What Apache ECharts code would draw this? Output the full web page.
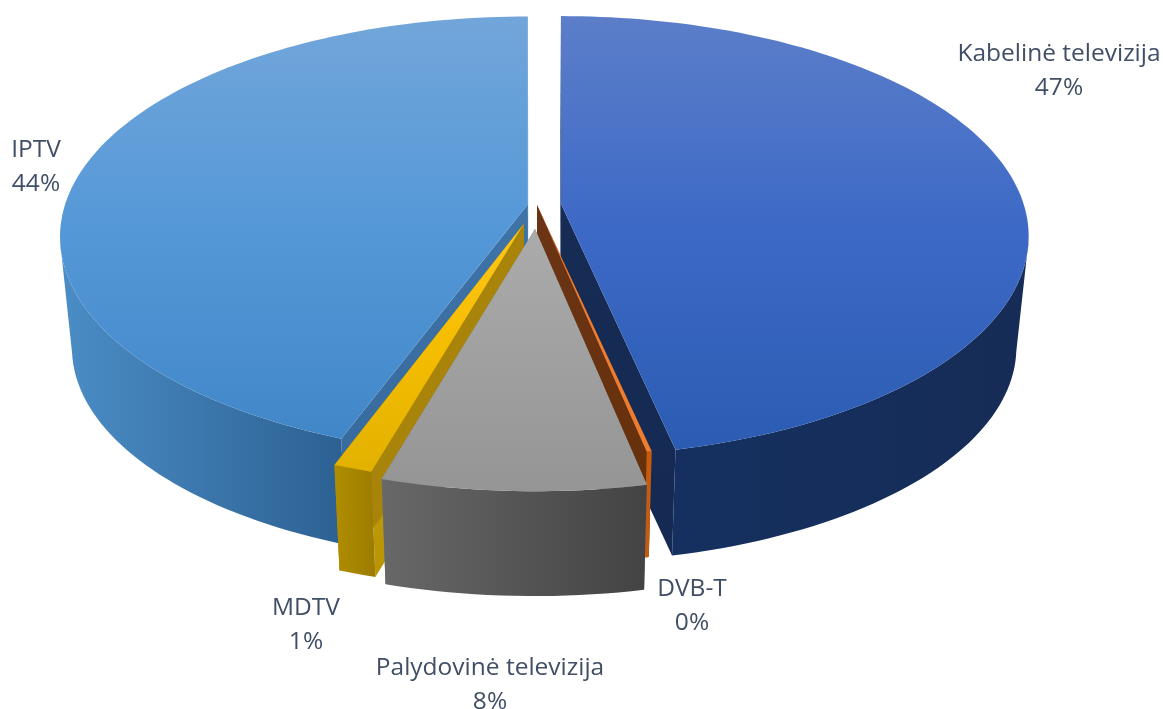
<!DOCTYPE html>
<html>
<head>
<meta charset="utf-8">
<title>TV platforms</title>
<script src="https://cdn.jsdelivr.net/npm/echarts@6/dist/echarts.min.js"></script>
<style>
    html, body { margin: 0; padding: 0; background: #fff; }
    #chart { width: 1163px; height: 709px; }
</style>
</head>
<body>
<div id="chart"></div>
<script>
// clockwise from 12 o'clock
var categories = ['Kabelinė televizija', 'DVB-T', 'Palydovinė televizija', 'MDTV', 'IPTV'];
var shares = [46.6, 0.15, 7.75, 1.15, 44.35];

// how far every slice is pulled out, share of radius
var explode = [0.052, 0, 0.11, 0.09, 0.02];
// back slices first, the grey one sits in front of everything
var drawOrder = [4, 0, 1, 3, 2];
var labelPos = [[1059, 71], [692, 606], [490, 685], [306, 625], [36, 167]];

var pie = { cx: 537, cy: 205, rx: 463, ry: 215.7, persp: 0.1474, shrink: 0.975, depth: 112 };

var colors = [
    { top: ['#5c7ec9', '#3c69c6', '#2b5cb2'], cutA: ['#14284f', '#14284f'], cutB: ['#172c54', '#152a52'], side: ['#153060', '#162c56'] },
    { top: ['#ed7d31', '#ed7d31', '#ed7d31'], cutA: ['#6b3416', '#6b3416'], cutB: ['#6b3416', '#663008'], side: ['#c55a11', '#c55a11'] },
    { top: ['#ababab', '#a0a0a0', '#959595'], cutA: ['#777777', '#777777'], cutB: ['#777777', '#777777'], side: ['#686868', '#434343'] },
    { top: ['#ffc61a', '#f5bd00', '#e2b100'], cutA: ['#c9a22e', '#ba9500'], cutB: ['#a8850a', '#a8850a'], side: ['#b08d00', '#9c7c00'] },
    { top: ['#72a6da', '#5598d8', '#4187c7'], cutA: ['#3f74a8', '#35689b'], cutB: ['#3a6fa5', '#3a6fa5'], side: ['#4b8dc6', '#2c6092'] }
];

function getAngles() {
    var total = shares.reduce(function (a, b) { return a + b; }, 0);
    var sum = 0;
    return shares.map(function (share) {
        var start = sum / total * Math.PI * 2;
        sum += share;
        return [start, sum / total * Math.PI * 2];
    });
}

// disc coordinates to screen, lower = the face at the bottom of the cylinder
function project(u, v, ox, oy, lower) {
    var w = 1 - pie.persp * (v + oy);
    var x = pie.rx * u / w + pie.rx * ox;
    var y = pie.ry * (v + oy) / w;
    if (lower) {
        return [pie.cx + x * pie.shrink, pie.cy + y * pie.shrink + pie.depth];
    }
    return [pie.cx + x, pie.cy + y];
}

function gradient(list, horizontal) {
    var stops = list.map(function (color, i) {
        return { offset: i / (list.length - 1), color: color };
    });
    return new echarts.graphic.LinearGradient(0, 0, horizontal ? 1 : 0, horizontal ? 0 : 1, stops);
}

function face(points, fill) {
    return { type: 'polygon', shape: { points: points }, style: { fill: fill } };
}

function renderSlice(params, api) {
    var idx = api.value(0);
    var range = getAngles()[idx];
    var mid = (range[0] + range[1]) / 2;
    var ox = explode[idx] * Math.sin(mid);
    var oy = -explode[idx] * Math.cos(mid);
    var steps = Math.max(2, Math.ceil((range[1] - range[0]) * 40));

    var upper = [];
    var wallTop = [];
    var wallLow = [];
    for (var i = 0; i <= steps; i++) {
        var t = range[0] + (range[1] - range[0]) * i / steps;
        var u = Math.sin(t);
        var v = -Math.cos(t);
        upper.push(project(u, v, ox, oy, false));
        // the back part of the wall is hidden, and would make the polygon cross itself
        if (v >= pie.persp) {
            wallTop.push(project(u, v, ox, oy, false));
            wallLow.push(project(u, v, ox, oy, true));
        }
    }
    var apexTop = project(0, 0, ox, oy, false);
    var apexLow = project(0, 0, ox, oy, true);
    var first = project(Math.sin(range[0]), -Math.cos(range[0]), ox, oy, true);
    var last = project(Math.sin(range[1]), -Math.cos(range[1]), ox, oy, true);
    var c = colors[idx];

    var children = [
        face([apexTop, upper[0], first, apexLow], gradient(c.cutA, false)),
        face([apexTop, upper[steps], last, apexLow], gradient(c.cutB, false)),
        face(wallTop.concat(wallLow.reverse()), gradient(c.side, true)),
        face([apexTop].concat(upper), gradient(c.top, false)),
        {
            type: 'text',
            style: {
                text: categories[idx] + '\n' + Math.round(shares[idx]) + '%',
                x: labelPos[idx][0],
                y: labelPos[idx][1],
                align: 'center',
                verticalAlign: 'middle',
                fill: '#404f66',
                fontFamily: 'Open Sans',
                fontSize: 24.5,
                lineHeight: 34
            }
        }
    ];
    return { type: 'group', children: children };
}

var chart = echarts.init(document.getElementById('chart'));
chart.setOption({
    animation: false,
    backgroundColor: '#ffffff',
    series: [{
        type: 'custom',
        coordinateSystem: 'none',
        silent: true,
        renderItem: renderSlice,
        encode: { value: 0 },
        data: drawOrder.map(function (idx) {
            return { name: categories[idx], value: [idx, shares[idx]] };
        })
    }]
});
</script>
</body>
</html>
